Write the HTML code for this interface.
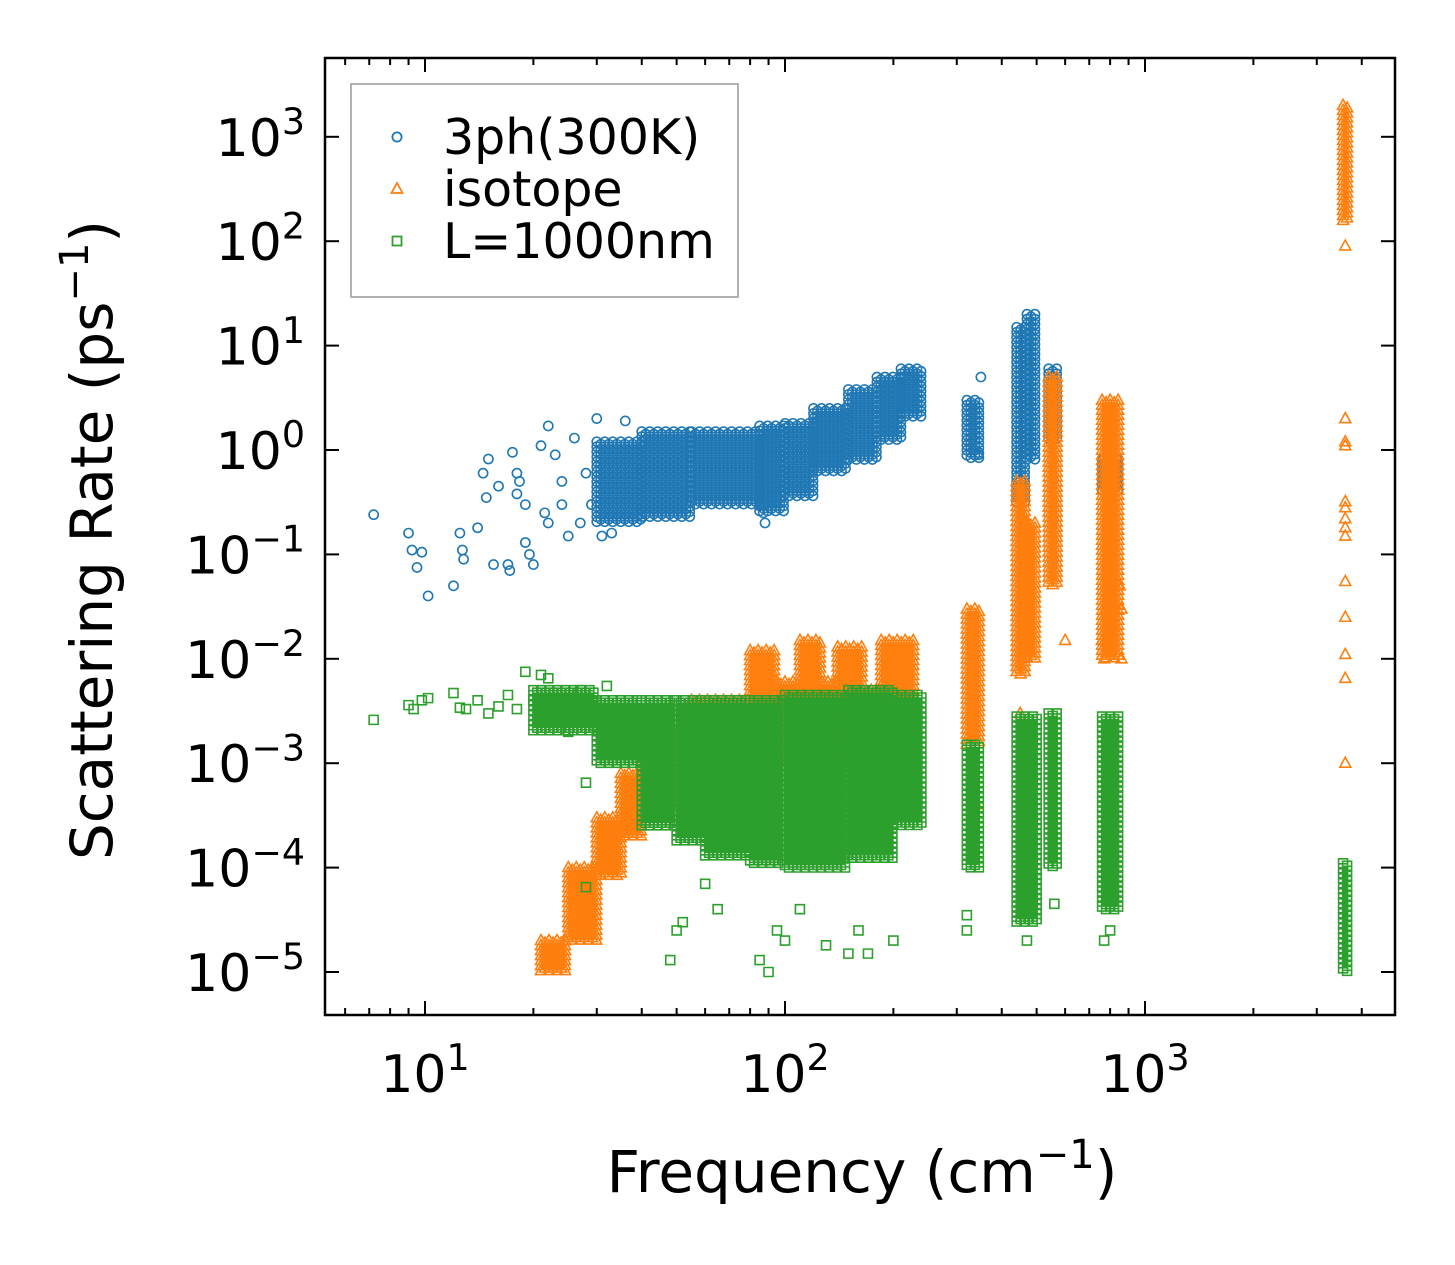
<!DOCTYPE html>
<html><head><meta charset="utf-8"><style>
html,body{margin:0;padding:0;background:#fff}
svg{display:block;font-family:"DejaVu Sans","Liberation Sans",sans-serif}
</style></head><body>
<svg id="chart" width="1455" height="1265" viewBox="0 0 1455 1265" xmlns="http://www.w3.org/2000/svg">
<rect x="0" y="0" width="1455" height="1265" fill="#fff"/>
<g id="marks"></g>
<g id="axes"></g>
</svg>
<script>
// ---------- data (frequency cm^-1, rate ps^-1) ----------
const xTickValues=[10,100,1000];
const xTickExp=["1","2","3"];
const yTickValues=[1e3,1e2,1e1,1,1e-1,1e-2,1e-3,1e-4,1e-5];
const yTickExp=["3","2","1","0","\u22121","\u22122","\u22123","\u22124","\u22125"];
const seriesNames=["3ph(300K)","isotope","L=1000nm"];

// scattered points
const blueX=[7.2,9,9.2,9.8,9.5,10.2,12,12.5,12.7,12.8,14,14.5,15,15.5,14.8,16,17,17.2,17.5,18,18.3,18,19,19.5,20,19,21,21.5,22,22,23,24,24,25,26,27,28,30,31,29,33,36,88,87,350,345];
const blueY=[0.24,0.16,0.11,0.105,0.075,0.04,0.05,0.16,0.11,0.09,0.18,0.6,0.82,0.08,0.35,0.45,0.08,0.07,0.95,0.6,0.5,0.38,0.3,0.1,0.08,0.13,1.1,0.25,0.2,1.7,0.9,0.5,0.3,0.15,1.3,0.2,0.6,2.0,0.15,0.3,0.16,1.9,0.2,0.25,5,0.9];
const orangeX=[3600,3600,3600,3600,3600,3600,3600,3600,3600,3600,3600,3600,3600,3600,450,480,600,760,770,780,820,850,860,860,330,340];
const orangeY=[2,1.2,1.1,0.32,0.28,0.22,0.18,0.15,0.055,0.025,0.011,0.0065,0.001,90,0.003,7e-5,0.015,0.015,0.01,0.03,0.02,0.05,0.01,0.03,7e-4,4e-4];
const greenX=[7.2,9,9.3,9.8,10.2,12,12.5,13,14,15,16,17,18,19,20,21,22,25,27,28,30,32,48,50,52,60,65,85,90,95,100,110,130,150,160,170,200,320,320,470,560,770,800,28,35];
const greenY=[0.0026,0.0036,0.0033,0.004,0.0042,0.0047,0.0034,0.0033,0.004,0.003,0.0035,0.0045,0.0033,0.0075,0.004,0.007,0.0065,0.002,0.005,0.00065,0.0025,0.0055,1.3e-5,2.5e-5,3e-5,7e-5,4e-5,1.3e-5,1e-5,2.5e-5,2e-5,4e-5,1.8e-5,1.5e-5,2.5e-5,1.5e-5,2e-5,3.5e-5,2.5e-5,2e-5,4.5e-5,2e-5,2.5e-5,6.5e-5,1.5e-3];

// dense regions: [xStart, xEnd, low, high]
const blueBands=[[30,40,0.2,1.2],[40,55,0.22,1.5],[55,85,0.3,1.5],[85,100,0.25,1.7],[100,120,0.35,1.8],[120,150,0.6,2.5],[150,180,0.8,3.8],[180,210,1.2,5],[210,240,2,6],[320,350,0.8,3],[440,470,0.3,15],[470,500,0.8,20],[540,570,1.2,6],[760,860,0.4,0.8]];
const orangeBands=[[21,25,1e-5,2e-5],[25,30,2e-5,1e-4],[30,35,8e-5,3e-4],[35,40,2e-4,8e-4],[40,55,4e-4,2e-3],[55,80,6e-4,4e-3],[80,95,1e-3,1.2e-2],[95,110,1e-3,6e-3],[110,125,1e-3,1.5e-2],[125,140,1e-3,6e-3],[140,165,1e-3,1.3e-2],[165,185,1e-3,5e-3],[185,230,1e-3,1.5e-2],[320,350,1.5e-3,3e-2],[440,470,7e-3,0.5],[470,500,0.01,0.2],[540,570,0.05,5],[760,860,0.01,3],[3550,3650,150,2000]];
const greenBands=[[20,30,0.002,0.005],[30,40,0.001,0.004],[40,50,2.5e-4,4e-3],[50,60,1.8e-4,4e-3],[60,80,1.3e-4,4e-3],[80,100,1.1e-4,4e-3],[100,150,1e-4,4.5e-3],[150,200,1.2e-4,5e-3],[200,240,2.5e-4,4.5e-3],[320,350,1e-4,1.5e-3],[440,500,3e-5,2.8e-3],[540,570,1e-4,3e-3],[760,860,4e-5,2.8e-3],[3550,3650,1e-5,1.1e-4]];

// ---------- axes ----------
const PL=325,PR=1395,PT=58,PB=1015;
const X=f=>PL+(Math.log10(f)-0.7222)*360;
const Y=v=>450-Math.log10(v)*104.4;
const NS="http://www.w3.org/2000/svg";
const marks=document.getElementById('marks');
const axes=document.getElementById('axes');
const colors=["#1f77b4","#ff7f0e","#2ca02c"];
const mk=t=>document.createElementNS(NS,t);

function markerPath(kind,x,y){
  if(kind===0){const r=4.6;return `M${x-r},${y}a${r},${r} 0 1,0 ${2*r},0a${r},${r} 0 1,0 ${-2*r},0Z`;}
  if(kind===1){return `M${x},${y-6}L${x+5.5},${y+4}L${x-5.5},${y+4}Z`;}
  return `M${x-4.5},${y-4.5}h9v9h-9Z`;
}
function drawSeries(kind,xs,ys,bands){
  const g=mk('g');
  
  
  g.setAttribute('fill','none');g.setAttribute('stroke',colors[kind]);g.setAttribute('stroke-width','1.6');
  marks.appendChild(g);
  let d='';
  bands.forEach((b)=>{
    const x0=X(b[0]),x1=X(b[1]),y0=Y(b[3]),y1=Y(b[2]);
    let col=0;
    for(let x=x0;x<=x1+0.1;x+=4,col++){
      for(let y=y0+(col%2)*2.5;y<=y1;y+=5){d+=markerPath(kind,x,y);}
    }
  });
  const band=mk('path');
  
  
  band.setAttribute('d',d);g.appendChild(band);
  xs.forEach((xv,i)=>{
    const p=mk('path');
    
    
    p.setAttribute('d',markerPath(kind,X(xv),Y(ys[i])));g.appendChild(p);
  });
}
drawSeries(0,blueX,blueY,blueBands);
drawSeries(1,orangeX,orangeY,orangeBands);
drawSeries(2,greenX,greenY,greenBands);

function line(x1,y1,x2,y2,w,name){const l=mk('line');l.setAttribute('x1',x1);l.setAttribute('y1',y1);l.setAttribute('x2',x2);l.setAttribute('y2',y2);l.setAttribute('stroke','#000');l.setAttribute('stroke-width',w);


axes.appendChild(l);}
function text(x,y,base,exp,anchor,size,name){const t=mk('text');t.setAttribute('x',x);t.setAttribute('y',y);t.setAttribute('text-anchor',anchor);t.setAttribute('font-size',size);


const a=mk('tspan');a.textContent=base;t.appendChild(a);
if(exp!==null){const b=mk('tspan');b.setAttribute('dy',-size*0.42);b.setAttribute('font-size',size*0.7);b.textContent=exp;t.appendChild(b);}
axes.appendChild(t);return t;}

// frame
const fr=mk('rect');fr.setAttribute('x',PL);fr.setAttribute('y',PT);fr.setAttribute('width',PR-PL);fr.setAttribute('height',PB-PT);fr.setAttribute('fill','none');fr.setAttribute('stroke','#000');fr.setAttribute('stroke-width','2.5');


axes.appendChild(fr);
// x ticks
for(let e=0;e<4;e++){for(let m=1;m<10;m++){const f=m*Math.pow(10,e);const x=X(f);if(x<PL||x>PR)continue;const L=m===1?14:7;
line(x,PB,x,PB-L,2,'x-tick');line(x,PT,x,PT+L,2,'x-tick-top');}}
xTickValues.forEach((v,i)=>text(X(v),1092,"10",xTickExp[i],'middle',52,'x-tick-label'));
// y ticks
yTickValues.forEach((v,i)=>{const y=Y(v);line(PL,y,PL+14,y,2,'y-tick');line(PR,y,PR-14,y,2,'y-tick-right');
text(305,y+19,"10",yTickExp[i],'end',52,'y-tick-label');});
// axis titles
text(862,1192,"Frequency (cm",null,'middle',58,'x-axis-title');
{const t=axes.lastChild;const b=mk('tspan');b.setAttribute('dy',-24);b.setAttribute('font-size',40);b.textContent="\u22121";t.appendChild(b);const c=mk('tspan');c.setAttribute('dy',24);c.textContent=")";t.appendChild(c);}
{const t=text(0,0,"Scattering Rate (ps",null,'middle',58,'y-axis-title');t.setAttribute('transform','translate(112,540) rotate(-90)');
const b=mk('tspan');b.setAttribute('dy',-24);b.setAttribute('font-size',40);b.textContent="\u22121";t.appendChild(b);const c=mk('tspan');c.setAttribute('dy',24);c.textContent=")";t.appendChild(c);}
// legend
const lg=mk('g');axes.appendChild(lg);
const lr=mk('rect');lr.setAttribute('x',351);lr.setAttribute('y',84);lr.setAttribute('width',387);lr.setAttribute('height',213);lr.setAttribute('fill','#fff');lr.setAttribute('stroke','#999');lr.setAttribute('stroke-width','1.5');


lg.appendChild(lr);
seriesNames.forEach((n,i)=>{const y=137+i*52;
const p=mk('path');p.setAttribute('d',markerPath(i,397,y));p.setAttribute('fill','none');p.setAttribute('stroke',colors[i]);p.setAttribute('stroke-width','1.8');


lg.appendChild(p);
const t=mk('text');t.setAttribute('x',443);t.setAttribute('y',y+17);t.setAttribute('font-size',49);t.textContent=n;


lg.appendChild(t);});
</script>
</body></html>
